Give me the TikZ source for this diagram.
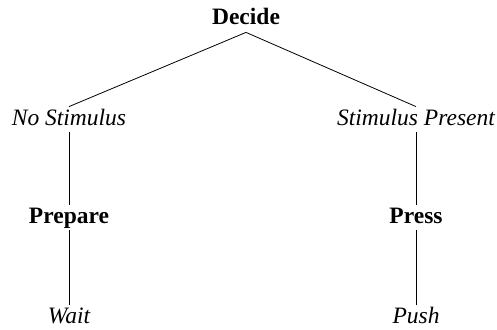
\documentclass[tikz,border=0pt]{standalone}
\usepackage{fontspec}
\setmainfont{Liberation Serif}
\usepackage{tikz}
\tikzstyle{item}=[anchor=base, inner sep=2pt, text height=16pt, text depth=5pt]
\tikzstyle{act}=[item, font=\fontsize{23.5}{28}\selectfont\bfseries]
\tikzstyle{cond}=[item, font=\fontsize{23.5}{28}\selectfont\itshape]

\begin{document}
\begin{tikzpicture}[x=1pt, y=-1pt, line width=0.8pt]
\useasboundingbox (0,0) rectangle (497,329);
\node[act] (decide) at (246,25) {Decide};
\node[cond] (nostim) at (69,125) {No Stimulus};
\node[cond] (stim) at (416,125) {Stimulus Present};
\node[act] (prepare) at (69,223) {Prepare};
\node[act] (press) at (416,223) {Press};
\node[cond] (wait) at (69,323) {Wait};
\node[cond] (push) at (416,323) {Push};
\draw (decide.south)--(nostim.north);
\draw (decide.south)--(stim.north);
\draw (nostim.south)--(prepare.north);
\draw (prepare.south)--(wait.north);
\draw (stim.south)--(press.north);
\draw (press.south)--(push.north);
\end{tikzpicture}
\end{document}
